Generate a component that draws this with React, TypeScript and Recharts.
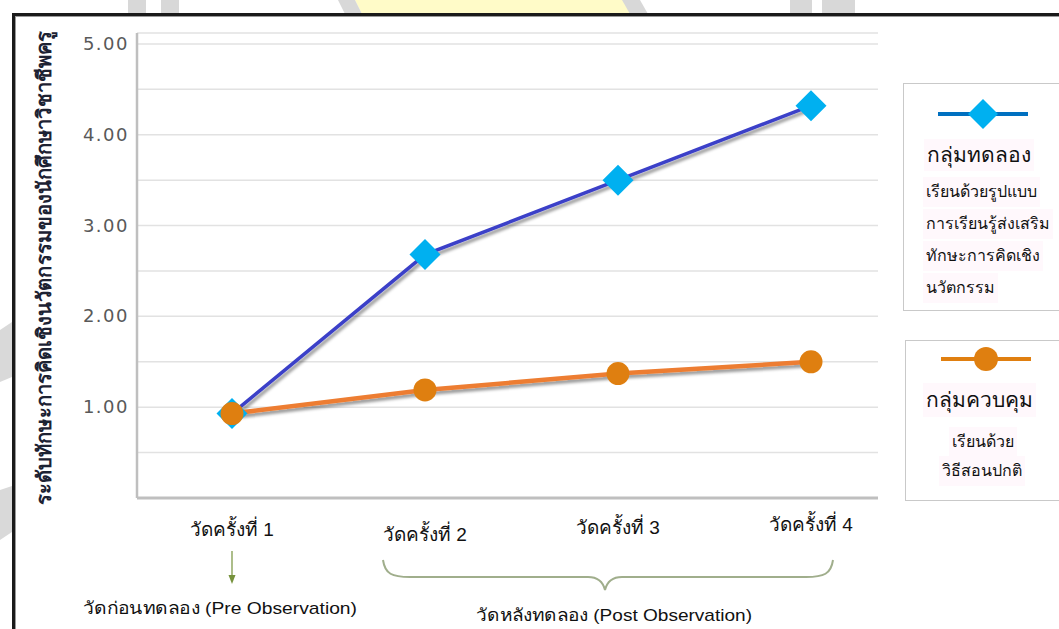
import React from 'react';
import { LineChart, Line, XAxis, YAxis, CartesianGrid } from 'recharts';

const categories = ['วัดครั้งที่ 1', 'วัดครั้งที่ 2', 'วัดครั้งที่ 3', 'วัดครั้งที่ 4'];
const experimental = [0.93, 2.68, 3.5, 4.32];
const control = [0.93, 1.19, 1.37, 1.5];
const yTicks = [0, 0.5, 1, 1.5, 2, 2.5, 3, 3.5, 4, 4.5, 5];

const seriesNames = ['กลุ่มทดลอง', 'กลุ่มควบคุม'];
const expDesc = ['เรียนด้วยรูปแบบ', 'การเรียนรู้ส่งเสริม', 'ทักษะการคิดเชิง', 'นวัตกรรม'];
const ctrlDesc = ['เรียนด้วย', 'วิธีสอนปกติ'];
const yTitle = 'ระดับทักษะการคิดเชิงนวัตกรรมของนักศึกษาวิชาชีพครู';
const preLabel = 'วัดก่อนทดลอง (Pre Observation)';
const postLabel = 'วัดหลังทดลอง (Post Observation)';

const data = categories.map((c, i) => ({ name: c, exp: experimental[i], ctrl: control[i] }));

const THAI = '"Liberation Sans Narrow", "Liberation Sans", "Noto Sans", sans-serif';
const TICK_DY = [0, 5, -2, -5];

const renderDiamond = (props: any) => {
  const { cx, cy, index } = props;
  const r = 15.5;
  return (
    <path
      key={`d-${index}`}
      d={`M${cx},${cy - r} L${cx + r},${cy} L${cx},${cy + r} L${cx - r},${cy} Z`}
      fill="#00B0F0"
    />
  );
};

const renderCircle = (props: any) => {
  const { cx, cy, index } = props;
  return <circle key={`c-${index}`} cx={cx} cy={cy} r={11.5} fill="#DF7F10" />;
};

const XTick = (props: any) => {
  const { x, y, payload, index } = props;
  return (
    <text
      x={x}
      y={y + 30 + (TICK_DY[index] || 0)}
      textAnchor="middle"
      fontFamily={THAI}
      fontSize={19}
      fill="#111"
    >
      {payload.value}
    </text>
  );
};

const YTick = (props: any) => {
  const { x, y, payload } = props;
  const v = payload.value;
  if (v === 0 || v % 1 !== 0) return null;
  return (
    <text
      x={x}
      y={y + 6}
      textAnchor="end"
      fontFamily='"DejaVu Sans", sans-serif'
      fontSize={18}
      letterSpacing={1.5}
      fill="#595959"
    >
      {v.toFixed(2)}
    </text>
  );
};

const descStyle = (left: number, top: number): React.CSSProperties => ({
  position: 'absolute',
  left,
  top,
  fontFamily: THAI,
  fontSize: 16,
  color: '#111',
  background: '#FFF8FC',
  lineHeight: '30px',
  padding: '0 3px',
  whiteSpace: 'nowrap',
});

export default function App() {
  return (
    <div style={{ position: 'absolute', left: 0, top: 0, width: 1059, height: 629, background: '#fff', overflow: 'hidden' }}>
      <svg style={{ position: 'absolute', width: 0, height: 0 }}>
        <defs>
          <filter id="lineShadow" x="-10%" y="-10%" width="130%" height="130%">
            <feDropShadow dx="2" dy="3" stdDeviation="1.5" floodColor="#000" floodOpacity="0.4" />
          </filter>
        </defs>
      </svg>
      {/* watermark fragments outside frame */}
      <svg style={{ position: 'absolute', left: 0, top: 0 }} width={1059} height={629}>
        <path d="M355,0 L637,0 L630,14 L362,14 Z" fill="#FFFBC8" />
        <path d="M338,0 L355,0 L362,14 L345,14 Z" fill="#D8D8D8" />
        <path d="M622,0 L640,0 L648,14 L630,14 Z" fill="#D8D8D8" />
        <rect x={128} y={0} width={18} height={14} fill="#D8D8D8" />
        <rect x={161} y={0} width={18} height={14} fill="#D8D8D8" />
        <rect x={790} y={0} width={22} height={14} fill="#D8D8D8" />
        <rect x={822} y={0} width={33} height={14} fill="#D8D8D8" />
        <path d="M0,330 L12,322 L12,377 L0,382 Z" fill="#D9D9D9" />
        <path d="M0,490 L12,486 L12,532 L0,540 Z" fill="#D9D9D9" />
      </svg>
      {/* frame */}
      <div
        style={{
          position: 'absolute',
          left: 12,
          top: 13,
          width: 1100,
          height: 700,
          borderTop: '3px solid #1a1a1a',
          borderLeft: '3px solid #1a1a1a',
          background: '#fff',
          boxShadow: 'inset 1px 1px 0 #9a9a9a',
        }}
      />
      <div style={{ position: 'absolute', left: 0, top: 0 }}>
        <LineChart width={1059} height={629} data={data} margin={{ top: 33, right: 181, bottom: 101, left: 57 }}>
          <CartesianGrid horizontal vertical={false} stroke="#E2E2E2" strokeWidth={1.5} />
          <XAxis
            dataKey="name"
            padding={{ left: 95, right: 67 }}
            axisLine={{ stroke: '#BFBFBF', strokeWidth: 3 }}
            tickLine={false}
            tick={<XTick />}
            height={30}
            interval={0}
          />
          <YAxis
            type="number"
            domain={[0, 5.12]}
            ticks={yTicks}
            width={80}
            axisLine={{ stroke: '#BFBFBF', strokeWidth: 2.5 }}
            tickLine={false}
            tick={<YTick />}
            interval={0}
          />
          <Line
            dataKey="exp"
            stroke="#3B3FC8"
            strokeWidth={3.5}
            isAnimationActive={false}
            dot={renderDiamond}
            activeDot={false}
            filter="url(#lineShadow)"
          />
          <Line
            dataKey="ctrl"
            stroke="#ED7D31"
            strokeWidth={4.5}
            isAnimationActive={false}
            dot={renderCircle}
            activeDot={false}
            filter="url(#lineShadow)"
          />
        </LineChart>
      </div>
      {/* annotations */}
      <svg style={{ position: 'absolute', left: 0, top: 0, pointerEvents: 'none' }} width={1059} height={629}>
        <text
          transform="translate(51,268) rotate(-90)"
          textAnchor="middle"
          fontFamily={THAI}
          fontWeight="bold"
          fontSize={20}
          fill="#1d2233"
          textLength={474}
          lengthAdjust="spacingAndGlyphs"
        >
          {yTitle}
        </text>
        <line x1={232} y1={551} x2={232} y2={576} stroke="#76923C" strokeWidth={1.2} />
        <path d="M228.5,575 L235.5,575 L232,584 Z" fill="#76923C" />
        <path
          d="M383,560 C385,574 392,577 410,577 L588,577 C598,577 603,582 605,590 C607,582 612,577 622,577 L806,577 C824,577 831,574 833,560"
          fill="none"
          stroke="#A0AE8C"
          strokeWidth={2}
        />
        <text x={220} y={614} textAnchor="middle" fontFamily={THAI} fontSize={17} fill="#111" textLength={274} lengthAdjust="spacingAndGlyphs">
          {preLabel}
        </text>
        <text x={614} y={621} textAnchor="middle" fontFamily={THAI} fontSize={17} fill="#111" textLength={276} lengthAdjust="spacingAndGlyphs">
          {postLabel}
        </text>
      </svg>
      {/* legend boxes */}
      <div style={{ position: 'absolute', left: 903, top: 83, width: 170, height: 228, border: '1px solid #C9C9C9', background: '#fff', boxSizing: 'border-box' }}>
        <svg style={{ position: 'absolute', left: 0, top: 0 }} width={170} height={60}>
          <line x1={34} y1={30} x2={124} y2={30} stroke="#0070C0" strokeWidth={4} />
          <path d="M79,15 L94,30 L79,45 L64,30 Z" fill="#00B0F0" />
        </svg>
        <div style={{ position: 'absolute', left: 20, top: 55, fontFamily: THAI, fontSize: 21, color: '#111', background: '#FFF8FC', lineHeight: '32px', padding: '0 3px', whiteSpace: 'nowrap' }}>
          {seriesNames[0]}
        </div>
        {expDesc.map((t, i) => (
          <div key={t} style={descStyle(19, 93 + i * 32)}>
            {t}
          </div>
        ))}
      </div>
      <div style={{ position: 'absolute', left: 905, top: 340, width: 170, height: 161, border: '1px solid #C9C9C9', background: '#fff', boxSizing: 'border-box' }}>
        <svg style={{ position: 'absolute', left: 0, top: 0 }} width={170} height={40}>
          <line x1={35} y1={18} x2={125} y2={18} stroke="#E07F10" strokeWidth={4} />
          <circle cx={80} cy={18} r={12} fill="#DF7F10" />
        </svg>
        <div style={{ position: 'absolute', left: 17, top: 42, fontFamily: THAI, fontSize: 21, color: '#111', background: '#FFF8FC', lineHeight: '34px', padding: '0 3px', whiteSpace: 'nowrap' }}>
          {seriesNames[1]}
        </div>
        <div style={descStyle(43, 86)}>{ctrlDesc[0]}</div>
        <div style={descStyle(33, 115)}>{ctrlDesc[1]}</div>
      </div>
    </div>
  );
}
